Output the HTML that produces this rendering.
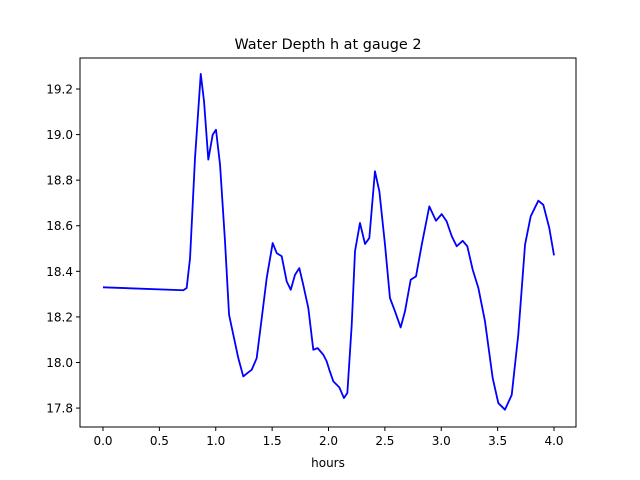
<!DOCTYPE html>
<html><head><meta charset="utf-8"><style>
html,body{margin:0;padding:0;background:#fff;}
svg{display:block;font-family:"DejaVu Sans","Liberation Sans",sans-serif;}
</style></head><body>
<svg id="chart" width="640" height="480" xmlns="http://www.w3.org/2000/svg">
<rect width="640" height="480" fill="#fff"/>
<text x="328" y="49" font-size="14.4" text-anchor="middle" fill="#000">Water Depth h at gauge 2</text>
<g id="plot"></g>
<rect x="80" y="58" width="496" height="369" fill="none" stroke="#000" stroke-width="1"/>
<g id="xticks"></g>
<g id="yticks"></g>
<text x="328" y="467" font-size="12" text-anchor="middle" fill="#000">hours</text>
</svg>
<script>
const hours = [0.0,0.712,0.742,0.772,0.816,0.867,0.896,0.934,0.973,1.002,1.038,1.082,1.118,1.162,1.200,1.244,1.289,1.319,1.363,1.408,1.452,1.505,1.541,1.585,1.629,1.665,1.703,1.741,1.776,1.821,1.865,1.904,1.954,1.984,2.007,2.043,2.096,2.137,2.167,2.206,2.235,2.279,2.324,2.362,2.412,2.451,2.501,2.545,2.590,2.640,2.678,2.729,2.776,2.827,2.894,2.953,3.004,3.048,3.093,3.137,3.190,3.231,3.279,3.329,3.388,3.456,3.506,3.565,3.625,3.683,3.743,3.793,3.861,3.905,3.958,4.0];
const depth = [18.330,18.317,18.327,18.458,18.897,19.266,19.146,18.890,19.000,19.021,18.868,18.532,18.209,18.107,18.019,17.939,17.957,17.968,18.019,18.195,18.371,18.524,18.480,18.466,18.356,18.319,18.385,18.414,18.341,18.239,18.056,18.063,18.034,18.005,17.968,17.917,17.891,17.844,17.866,18.166,18.488,18.612,18.520,18.546,18.839,18.751,18.517,18.283,18.224,18.154,18.224,18.363,18.378,18.517,18.685,18.622,18.651,18.619,18.554,18.510,18.534,18.510,18.407,18.327,18.180,17.932,17.822,17.793,17.858,18.122,18.517,18.641,18.710,18.692,18.590,18.470];
const xTicks = [0,0.5,1,1.5,2,2.5,3,3.5,4];
const xTickLabels = ["0.0","0.5","1.0","1.5","2.0","2.5","3.0","3.5","4.0"];
const yTicks = [17.8,18.0,18.2,18.4,18.6,18.8,19.0,19.2];
const yTickLabels = ["17.8","18.0","18.2","18.4","18.6","18.8","19.0","19.2"];

const NS = "http://www.w3.org/2000/svg";
const X0=80, X1=576, Y0=58, Y1=427;
const xMin=-0.204, xMax=4.195, yMin=17.717, yMax=19.336;
const sx = v => X0 + (v - xMin) / (xMax - xMin) * (X1 - X0);
const sy = v => Y1 - (v - yMin) / (yMax - yMin) * (Y1 - Y0);

const plot = document.getElementById('plot');
const line = document.createElementNS(NS,'polyline');
line.setAttribute('points', hours.map((h,i)=>sx(h).toFixed(2)+','+sy(depth[i]).toFixed(2)).join(' '));
line.setAttribute('fill','none');
line.setAttribute('stroke','#0000ff');
line.setAttribute('stroke-width','1.8');
line.setAttribute('stroke-linejoin','round');


plot.appendChild(line);

const xg = document.getElementById('xticks');
xTicks.forEach((t,i)=>{
  const x = sx(t);
  const tk = document.createElementNS(NS,'line');
  tk.setAttribute('x1',x);tk.setAttribute('x2',x);tk.setAttribute('y1',Y1);tk.setAttribute('y2',Y1+4);
  tk.setAttribute('stroke','#000');
  
  
  xg.appendChild(tk);
  const lb = document.createElementNS(NS,'text');
  lb.setAttribute('x',x);lb.setAttribute('y',Y1+18);lb.setAttribute('font-size','12');lb.setAttribute('text-anchor','middle');
  lb.textContent = xTickLabels[i];
  
  
  xg.appendChild(lb);
});
const yg = document.getElementById('yticks');
yTicks.forEach((t,i)=>{
  const y = sy(t);
  const tk = document.createElementNS(NS,'line');
  tk.setAttribute('x1',X0-4);tk.setAttribute('x2',X0);tk.setAttribute('y1',y);tk.setAttribute('y2',y);
  tk.setAttribute('stroke','#000');
  
  
  yg.appendChild(tk);
  const lb = document.createElementNS(NS,'text');
  lb.setAttribute('x',X0-7);lb.setAttribute('y',y+4.5);lb.setAttribute('font-size','12');lb.setAttribute('text-anchor','end');
  lb.textContent = yTickLabels[i];
  
  
  yg.appendChild(lb);
});
</script>
</body></html>
